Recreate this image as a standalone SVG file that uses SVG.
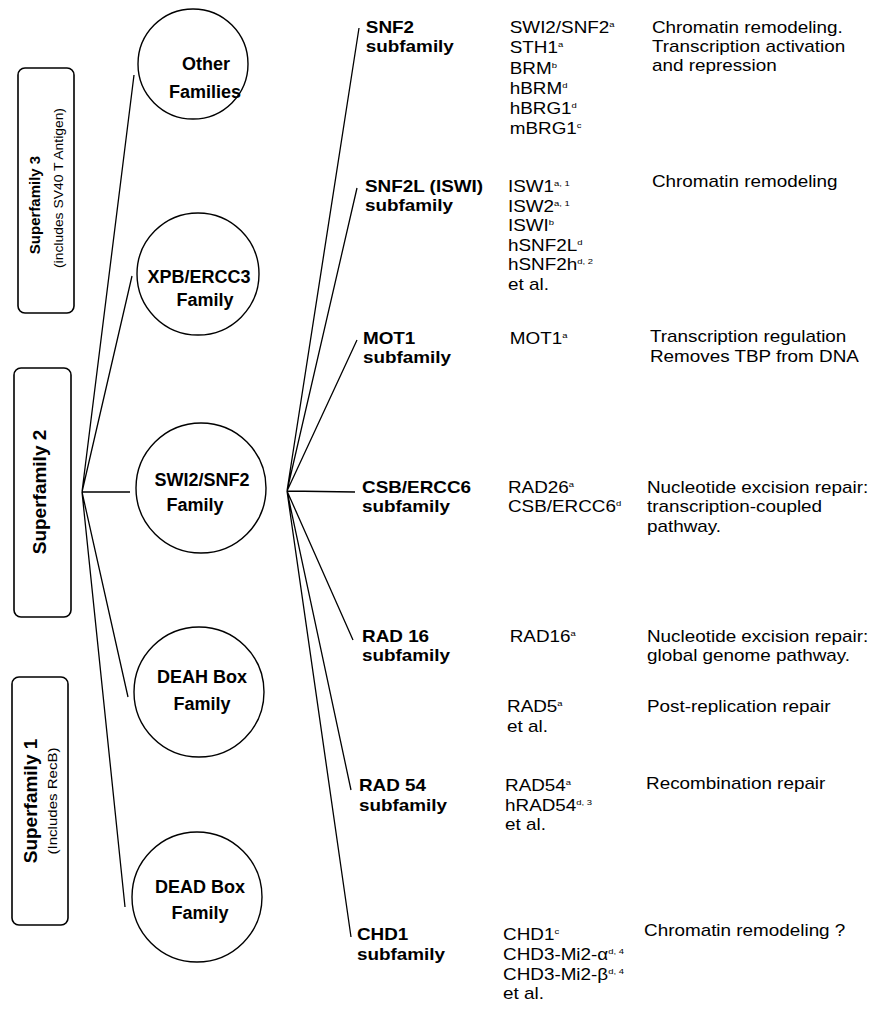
<svg xmlns="http://www.w3.org/2000/svg" width="877" height="1017" viewBox="0 0 877 1017">
<style>
.box{fill:#fff;stroke:#000;stroke-width:1.6}
.circ{fill:#fff;stroke:#000;stroke-width:1.4}
.ln{stroke:#000;stroke-width:1.3;fill:none}
text{font-family:"Liberation Sans",Arial,sans-serif;fill:#000}
.sf{font-weight:bold}
.cl{font-weight:bold;font-size:18px;text-anchor:middle}
.lb{font-weight:bold;font-size:16px}
.tx{font-size:16px}
.sup{font-size:8px}
</style>
<rect width="877" height="1017" fill="#fff"/>
<g id="connectors">
<path class="ln" d="M82,492 L134,75 M82,492 L132,276 M82,492 L130,492 M82,492 L128,697 M82,492 L125,907"/>
<path class="ln" d="M287,491 L359,28 M287,491 L357,188 M287,491 L357,340 M287,491 L355,492 M287,491 L353,640 M287,491 L351,790 M287,491 L351,937"/>
</g>
<g id="superfamily3">
<rect class="box" x="18" y="68" width="56" height="245" rx="7"/>
<text class="sf" font-size="15" text-anchor="middle" transform="translate(40,205) rotate(-90)">Superfamily 3</text>
<text font-size="13" text-anchor="middle" textLength="160" lengthAdjust="spacingAndGlyphs" transform="translate(63,188) rotate(-90)">(includes SV40 T Antigen)</text>
</g>
<g id="superfamily2">
<rect class="box" x="14" y="368" width="57" height="249" rx="7"/>
<text class="sf" font-size="19" text-anchor="middle" transform="translate(46,492) rotate(-90)">Superfamily 2</text>
</g>
<g id="superfamily1">
<rect class="box" x="12" y="677" width="56" height="248" rx="7"/>
<text class="sf" font-size="19" text-anchor="middle" transform="translate(37,801) rotate(-90)">Superfamily 1</text>
<text font-size="12" text-anchor="middle" textLength="107" lengthAdjust="spacingAndGlyphs" transform="translate(57,801) rotate(-90)">(Includes RecB)</text>
</g>
<g id="other-families">
<circle class="circ" cx="193" cy="64" r="55"/>
<text class="cl" x="206" y="70">Other</text>
<text class="cl" x="205" y="98">Families</text>
</g>
<g id="xpb-ercc3">
<circle class="circ" cx="198" cy="274" r="61"/>
<text class="cl" x="199" y="283">XPB/ERCC3</text>
<text class="cl" x="205" y="306">Family</text>
</g>
<g id="swi2-snf2">
<circle class="circ" cx="201" cy="488" r="65"/>
<text class="cl" x="202" y="486">SWI2/SNF2</text>
<text class="cl" x="195" y="511">Family</text>
</g>
<g id="deah-box">
<circle class="circ" cx="199" cy="692" r="65"/>
<text class="cl" x="202" y="683">DEAH Box</text>
<text class="cl" x="202" y="710">Family</text>
</g>
<g id="dead-box">
<circle class="circ" cx="197" cy="897" r="65"/>
<text class="cl" x="200" y="893">DEAD Box</text>
<text class="cl" x="200" y="919">Family</text>
</g>
<g transform="scale(1.18,1)">
<g id="snf2-subfamily">
<text class="lb" x="310" y="33">SNF2</text>
<text class="lb" x="310" y="52">subfamily</text>
<text class="tx" x="432" y="33">SWI2/SNF2<tspan class="sup" dy="-6">a</tspan></text>
<text class="tx" x="432" y="53">STH1<tspan class="sup" dy="-6">a</tspan></text>
<text class="tx" x="432" y="74">BRM<tspan class="sup" dy="-6">b</tspan></text>
<text class="tx" x="432" y="94">hBRM<tspan class="sup" dy="-6">d</tspan></text>
<text class="tx" x="432" y="114">hBRG1<tspan class="sup" dy="-6">d</tspan></text>
<text class="tx" x="432" y="134">mBRG1<tspan class="sup" dy="-6">c</tspan></text>
<text class="tx" x="552.5" y="33">Chromatin remodeling.</text>
<text class="tx" x="552.5" y="52">Transcription activation</text>
<text class="tx" x="552.5" y="71">and repression</text>
</g>
<g id="snf2l-subfamily">
<text class="lb" x="309.3" y="192">SNF2L (ISWI)</text>
<text class="lb" x="309.3" y="211">subfamily</text>
<text class="tx" x="430.5" y="192">ISW1<tspan class="sup" dy="-6">a, 1</tspan></text>
<text class="tx" x="430.5" y="212">ISW2<tspan class="sup" dy="-6">a, 1</tspan></text>
<text class="tx" x="430.5" y="231">ISWI<tspan class="sup" dy="-6">b</tspan></text>
<text class="tx" x="430.5" y="251">hSNF2L<tspan class="sup" dy="-6">d</tspan></text>
<text class="tx" x="430.5" y="270">hSNF2h<tspan class="sup" dy="-6">d, 2</tspan></text>
<text class="tx" x="430.5" y="290">et al.</text>
<text class="tx" x="552.5" y="187">Chromatin remodeling</text>
</g>
<g id="mot1-subfamily">
<text class="lb" x="307.6" y="344">MOT1</text>
<text class="lb" x="307.6" y="363">subfamily</text>
<text class="tx" x="432" y="344">MOT1<tspan class="sup" dy="-6">a</tspan></text>
<text class="tx" x="550.8" y="342">Transcription regulation</text>
<text class="tx" x="550.8" y="362">Removes TBP from DNA</text>
</g>
<g id="csb-subfamily">
<text class="lb" x="306.8" y="493">CSB/ERCC6</text>
<text class="lb" x="306.8" y="512">subfamily</text>
<text class="tx" x="430.5" y="493">RAD26<tspan class="sup" dy="-6">a</tspan></text>
<text class="tx" x="430.5" y="512">CSB/ERCC6<tspan class="sup" dy="-6">d</tspan></text>
<text class="tx" x="548.3" y="493">Nucleotide excision repair:</text>
<text class="tx" x="548.3" y="512">transcription-coupled</text>
<text class="tx" x="548.3" y="532">pathway.</text>
</g>
<g id="rad16-subfamily">
<text class="lb" x="306.8" y="642">RAD 16</text>
<text class="lb" x="306.8" y="661">subfamily</text>
<text class="tx" x="432" y="642">RAD16<tspan class="sup" dy="-6">a</tspan></text>
<text class="tx" x="429.7" y="712">RAD5<tspan class="sup" dy="-6">a</tspan></text>
<text class="tx" x="429.7" y="732">et al.</text>
<text class="tx" x="548.3" y="642">Nucleotide excision repair:</text>
<text class="tx" x="548.3" y="661">global genome pathway.</text>
<text class="tx" x="548.3" y="712">Post-replication repair</text>
</g>
<g id="rad54-subfamily">
<text class="lb" x="304.2" y="791">RAD 54</text>
<text class="lb" x="304.2" y="811">subfamily</text>
<text class="tx" x="428" y="791">RAD54<tspan class="sup" dy="-6">a</tspan></text>
<text class="tx" x="428" y="811">hRAD54<tspan class="sup" dy="-6">d, 3</tspan></text>
<text class="tx" x="428" y="830">et al.</text>
<text class="tx" x="547.5" y="789">Recombination repair</text>
</g>
<g id="chd1-subfamily">
<text class="lb" x="302.5" y="940">CHD1</text>
<text class="lb" x="302.5" y="960">subfamily</text>
<text class="tx" x="426.3" y="940">CHD1<tspan class="sup" dy="-6">c</tspan></text>
<text class="tx" x="426.3" y="960">CHD3-Mi2-α<tspan class="sup" dy="-6">d, 4</tspan></text>
<text class="tx" x="426.3" y="980">CHD3-Mi2-β<tspan class="sup" dy="-6">d, 4</tspan></text>
<text class="tx" x="426.3" y="999">et al.</text>
<text class="tx" x="545.8" y="936">Chromatin remodeling ?</text>
</g>
</g>
</svg>
